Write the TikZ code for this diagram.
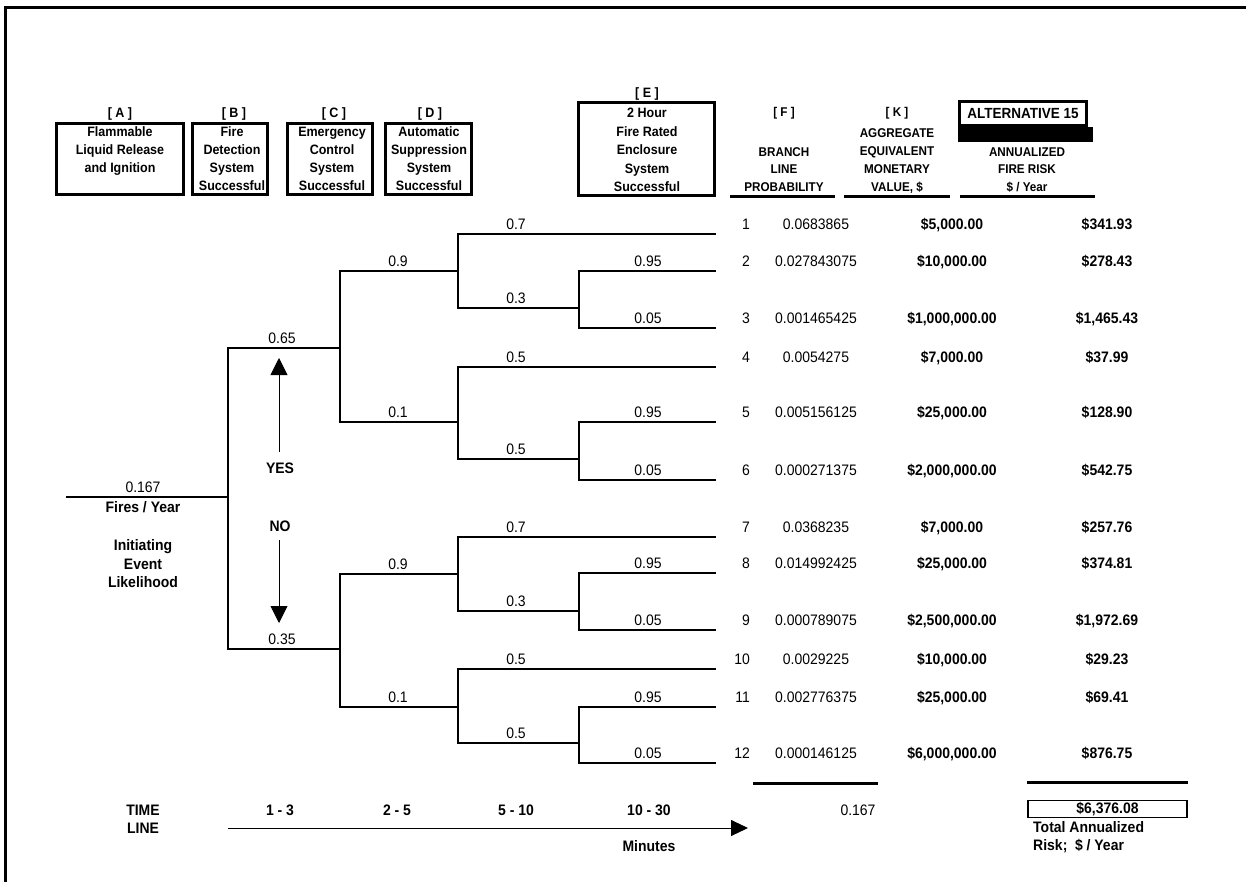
\documentclass[tikz,border=0pt]{standalone}
\usepackage{fontspec}
\setmainfont[FakeStretch=0.92]{Liberation Sans}
\usetikzlibrary{arrows.meta}

\tikzset{
  hdrbox/.style={draw, line width=3pt, inner sep=0pt},
  boxtxt/.style={font=\fontsize{13.6}{16}\bfseries, anchor=base, inner sep=0pt},
  colhdr/.style={font=\fontsize{12.7}{15}\bfseries, anchor=base, inner sep=0pt},
  bigtxt/.style={font=\fontsize{15.2}{18}\bfseries, anchor=base, inner sep=0pt},
  numtxt/.style={font=\fontsize{15.2}{18}\selectfont, anchor=base, inner sep=0pt},
  branch/.style={line width=2.8pt},
  stem/.style={line width=1.6pt, line cap=rect},
  heavyrule/.style={line width=3pt},
  thinline/.style={line width=0.9pt},
  bigtip/.style={-{Triangle[length=17pt,width=17pt]}},
}

\begin{document}
\begin{tikzpicture}[x=1pt,y=-1pt]
\useasboundingbox (0,0) rectangle (1246,882);

% page frame
\draw[line width=3pt] (1246,8) -- (5,8) -- (5,882);

% ---------- event headings ----------
\node[hdrbox, minimum width=127pt, minimum height=71pt] (boxA) at (120,159) {};
\node[boxtxt] (labA) at (120,118) {[ A ]};
\foreach \t [count=\i] in {Flammable, Liquid Release, and Ignition}
  \node[boxtxt] (txtA\i) at (120,{137+17.6*(\i-1)}) {\t};

\node[hdrbox, minimum width=75pt, minimum height=71pt] (boxB) at (230,159) {};
\node[boxtxt] (labB) at (234,118) {[ B ]};
\foreach \t [count=\i] in {Fire, Detection, System, Successful}
  \node[boxtxt] (txtB\i) at (232,{137+17.7*(\i-1)}) {\t};

\node[hdrbox, minimum width=85pt, minimum height=71pt] (boxC) at (330,159) {};
\node[boxtxt] (labC) at (334,118) {[ C ]};
\foreach \t [count=\i] in {Emergency, Control, System, Successful}
  \node[boxtxt] (txtC\i) at (332,{137+17.7*(\i-1)}) {\t};

\node[hdrbox, minimum width=86pt, minimum height=71pt] (boxD) at (428.5,159) {};
\node[boxtxt] (labD) at (430,118) {[ D ]};
\foreach \t [count=\i] in {Automatic, Suppression, System, Successful}
  \node[boxtxt] (txtD\i) at (429,{137+17.7*(\i-1)}) {\t};

\node[hdrbox, minimum width=136pt, minimum height=93pt] (boxE) at (646.5,149) {};
\node[boxtxt] (labE) at (647,98) {[ E ]};
\foreach \t [count=\i] in {2 Hour, Fire Rated, Enclosure, System, Successful}
  \node[boxtxt] (txtE\i) at (647,{118+18.5*(\i-1)}) {\t};

% ---------- result column headings ----------
\node[colhdr] (labF) at (784,116.5) {[ F ]};
\foreach \t [count=\i] in {BRANCH, LINE, PROBABILITY}
  \node[colhdr] (txtF\i) at (784,{156.5+17.5*(\i-1)}) {\t};
\coordinate (ulF1) at (730,197); \coordinate (ulF2) at (835,197);
\draw[heavyrule] (ulF1) -- (ulF2);

\node[colhdr] (labK) at (897,116.5) {[ K ]};
\foreach \t [count=\i] in {AGGREGATE, EQUIVALENT, MONETARY, {VALUE, \$}}
  \node[colhdr] (txtK\i) at (897,{137.5+18*(\i-1)}) {\t};
\coordinate (ulK1) at (844,197); \coordinate (ulK2) at (950,197);
\draw[heavyrule] (ulK1) -- (ulK2);

\node[hdrbox, minimum width=127pt, minimum height=24pt,
      font=\fontsize{14.7}{17}\bfseries] (alt) at (1023,113.5) {ALTERNATIVE 15};
\fill (958,127) rectangle (1093,142);
\foreach \t [count=\i] in {ANNUALIZED, FIRE RISK, {\$ /\ Year}}
  \node[colhdr] (txtR\i) at (1027,{156.5+17.5*(\i-1)}) {\t};
\coordinate (ulR1) at (960,197); \coordinate (ulR2) at (1095,197);
\draw[heavyrule] (ulR1) -- (ulR2);

% ---------- outcome rows ----------
\foreach \yy/\n/\p/\v/\r in {
   234/1/0.0683865/{\$5,000.00}/{\$341.93},
   271/2/0.027843075/{\$10,000.00}/{\$278.43},
   328/3/0.001465425/{\$1,000,000.00}/{\$1,465.43},
   367/4/0.0054275/{\$7,000.00}/{\$37.99},
   422/5/0.005156125/{\$25,000.00}/{\$128.90},
   480/6/0.000271375/{\$2,000,000.00}/{\$542.75},
   537/7/0.0368235/{\$7,000.00}/{\$257.76},
   573/8/0.014992425/{\$25,000.00}/{\$374.81},
   630/9/0.000789075/{\$2,500,000.00}/{\$1,972.69},
   669/10/0.0029225/{\$10,000.00}/{\$29.23},
   707/11/0.002776375/{\$25,000.00}/{\$69.41},
   763/12/0.000146125/{\$6,000,000.00}/{\$876.75}}{
  \coordinate (leaf\n) at (716,\yy);
  \node[numtxt, anchor=base east] (row\n) at (750,{\yy-4.5}) {\n};
  \node[numtxt] (prob\n) at (816,{\yy-4.5}) {\p};
  \node[bigtxt] (val\n) at (952,{\yy-4.5}) {\v};
  \node[bigtxt] (risk\n) at (1107,{\yy-4.5}) {\r};
}

% ---------- event tree ----------
\coordinate (root) at (66,497);
\coordinate (bJ) at (228,497);
\draw[branch] (root) -- (bJ);
\node[numtxt] (pInit) at (143,492.5) {0.167};
\node[bigtxt] (fpy) at (143,512.5) {Fires / Year};
\foreach \t [count=\i] in {Initiating, Event, Likelihood}
  \node[bigtxt] (init\i) at (143,{550.5+18.5*(\i-1)}) {\t};

\coordinate (bU) at (228,348); \coordinate (bD) at (228,649);
\draw[stem] (bU) -- (bD);
\coordinate (cJ1) at (340,348); \coordinate (cJ2) at (340,649);
\draw[branch] (bU) -- (cJ1);
\draw[branch] (bD) -- (cJ2);
\node[numtxt] (pYes) at (282,343.5) {0.65};
\node[numtxt] (pNo) at (282,644.5) {0.35};

% level C
\foreach \g/\u/\d in {1/271/422, 2/574/707}{
  \coordinate (c\g u) at (340,\u); \coordinate (c\g d) at (340,\d);
  \draw[stem] (c\g u) -- (c\g d);
  \coordinate (dJ\g u) at (458,\u); \coordinate (dJ\g d) at (458,\d);
  \draw[branch] (c\g u) -- (dJ\g u);
  \draw[branch] (c\g d) -- (dJ\g d);
  \node[numtxt] (pc\g u) at (398,{\u-4.5}) {0.9};
  \node[numtxt] (pc\g d) at (398,{\d-4.5}) {0.1};
}

% levels D and E
\foreach \k/\t/\b/\eu/\ed/\la/\lb/\lc/\pa/\pb in {
   1/234/308/271/328/1/2/3/0.7/0.3,
   2/367/459/422/480/4/5/6/0.5/0.5,
   3/537/611/573/630/7/8/9/0.7/0.3,
   4/669/743/707/763/10/11/12/0.5/0.5}{
  \coordinate (d\k t) at (458,\t); \coordinate (d\k b) at (458,\b);
  \draw[stem] (d\k t) -- (d\k b);
  \coordinate (e\k) at (579,\b);
  \coordinate (e\k t) at (579,\eu); \coordinate (e\k b) at (579,\ed);
  \draw[stem] (e\k t) -- (e\k b);
  \draw[branch] (d\k t) -- (leaf\la);
  \draw[branch] (d\k b) -- (e\k);
  \draw[branch] (e\k t) -- (leaf\lb);
  \draw[branch] (e\k b) -- (leaf\lc);
  \node[numtxt] (pd\k t) at (516,{\t-4.5}) {\pa};
  \node[numtxt] (pd\k b) at (516,{\b-4.5}) {\pb};
  \node[numtxt] (pe\k t) at (648,{\eu-4.5}) {0.95};
  \node[numtxt] (pe\k b) at (648,{\ed-4.5}) {0.05};
}

% yes / no pointers
\node[bigtxt] (yes) at (280,473.5) {YES};
\node[bigtxt] (no) at (280,531.5) {NO};
\coordinate (yesS) at (279,452); \coordinate (yesE) at (279,358);
\coordinate (noS) at (279,540);  \coordinate (noE) at (279,623);
\draw[thinline, bigtip] (yesS) -- (yesE);
\draw[thinline, bigtip] (noS) -- (noE);

% ---------- totals ----------
\coordinate (sumP1) at (753,783); \coordinate (sumP2) at (878,783);
\draw[heavyrule] (sumP1) -- (sumP2);
\node[numtxt] (sumP) at (858,815.5) {0.167};

\coordinate (sumR1) at (1027,782); \coordinate (sumR2) at (1188,782);
\draw[heavyrule] (sumR1) -- (sumR2);
\node[draw, line width=1.5pt, minimum width=159pt, minimum height=17pt, inner sep=0pt,
      font=\fontsize{15.2}{18}\bfseries] (total) at (1107.5,809) {\$6,376.08};
\node[bigtxt, anchor=base west] (tot1) at (1033,832.5) {Total Annualized};
\node[bigtxt, anchor=base west] (tot2) at (1033,850.5) {Risk;\enspace\$ / Year};

% ---------- time line ----------
\node[bigtxt] (time1) at (143,815.5) {TIME};
\node[bigtxt] (time2) at (143,833.5) {LINE};
\node[bigtxt] (tB) at (280,815.5) {1 - 3};
\node[bigtxt] (tC) at (397,815.5) {2 - 5};
\node[bigtxt] (tD) at (516,815.5) {5 - 10};
\node[bigtxt] (tE) at (649,815.5) {10 - 30};
\node[bigtxt] (mins) at (649,851.5) {Minutes};
\coordinate (tlS) at (228,828); \coordinate (tlE) at (748,828);
\draw[thinline, -{Triangle[length=17pt,width=16pt]}] (tlS) -- (tlE);

\end{tikzpicture}
\end{document}
